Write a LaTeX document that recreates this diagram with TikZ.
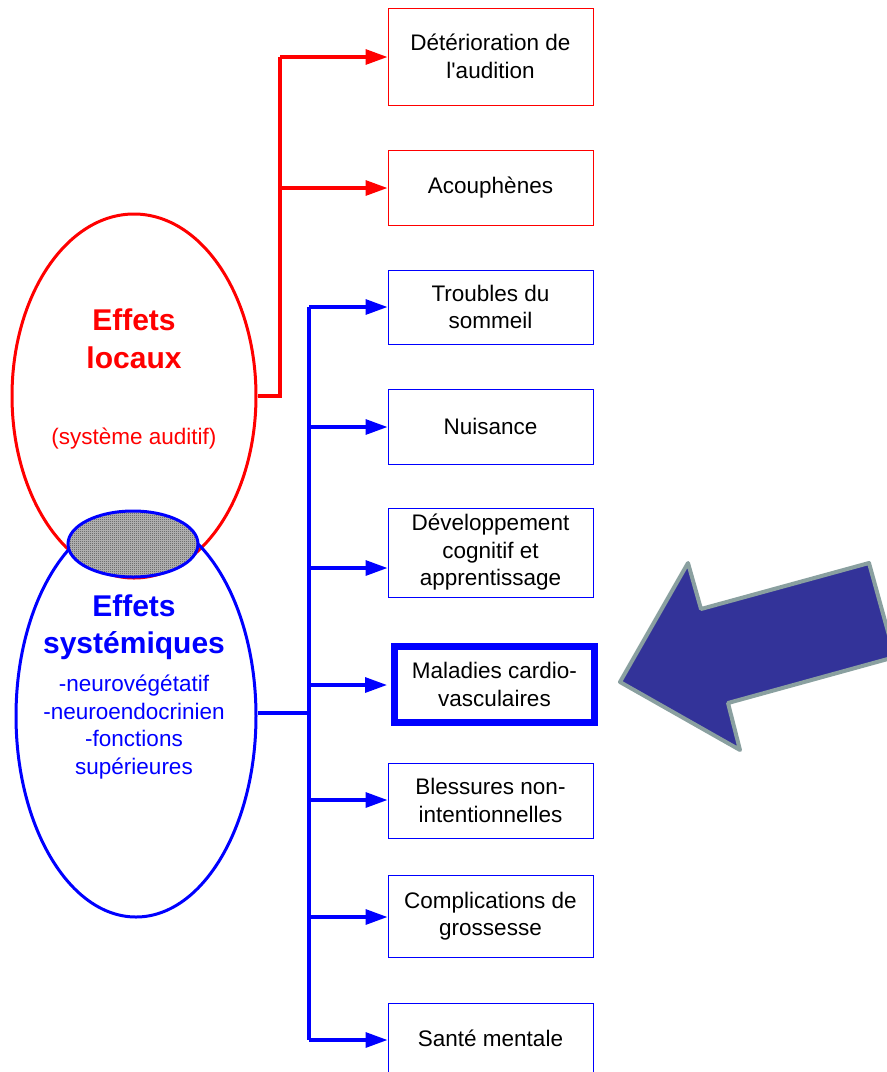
\documentclass[tikz,border=0pt]{standalone}
\usepackage{fontspec}
\setmainfont{Liberation Sans}
\usetikzlibrary{shapes.geometric,arrows.meta,patterns}
\definecolor{arrfill}{RGB}{51,51,153}
\definecolor{arredge}{RGB}{138,160,160}
\definecolor{hatchlight}{RGB}{190,190,190}
\definecolor{hatchdark}{RGB}{70,70,70}
\newcommand\sq{\XeTeXglyph\XeTeXcharglyph"27\relax}
\pgfdeclarepatternformonly{finechecker}{\pgfpointorigin}{\pgfpoint{2pt}{2pt}}{\pgfpoint{2pt}{2pt}}{%
  \pgfpathrectangle{\pgfpointorigin}{\pgfpoint{1pt}{1pt}}%
  \pgfpathrectangle{\pgfpoint{1pt}{1pt}}{\pgfpoint{1pt}{1pt}}%
  \pgfusepath{fill}}
\begin{document}
\begin{tikzpicture}[x=1pt,y=-1pt,
  box/.style={draw, rectangle, minimum width=205pt, minimum height=#1, align=center,
    font=\fontsize{22.5}{27.5}\selectfont, inner sep=0pt, line width=1pt, text=black},
  redbox/.style={box=#1, draw=red},
  bluebox/.style={box=#1, draw=blue},
  redline/.style={draw=red, line width=3.2pt, line join=miter},
  blueline/.style={draw=blue, line width=3.2pt, line join=miter},
  tipped/.style={-{Triangle[length=22pt,width=15pt]}},
  bigtxt/.style={align=center, font=\fontsize{30}{37.5}\selectfont\bfseries, inner sep=0pt},
  smalltxt/.style={align=center, font=\fontsize{22.5}{27.7}\selectfont, inner sep=0pt},
  oval/.style={ellipse, line width=3pt, inner sep=0pt}
]
\useasboundingbox (0,0) rectangle (887,1072);

% ellipses
\node[oval, draw=red, minimum width=244pt, minimum height=364pt] (loc) at (134,396) {};
\node[oval, draw=blue, minimum width=240pt, minimum height=402pt] (sys) at (136,716) {};
\node[oval, draw=blue, preaction={fill=hatchlight}, pattern=finechecker, pattern color=hatchdark,
  minimum width=130pt, minimum height=66pt] (inter) at (133,544) {};

% ellipse texts
\node[bigtxt, text=red] (loct) at (134,339) {Effets\\locaux};
\node[smalltxt, text=red] (locs) at (134,439) {(système auditif)};
\node[bigtxt, text=blue] (syst) at (134,627) {Effets\\systémiques};
\node[smalltxt, text=blue] (sysl) at (134,727) {-neurovégétatif\\-neuroendocrinien\\-fonctions\\supérieures};

% boxes
\node[redbox=97pt] (b1) at (490.5,56.5) {Détérioration de\\l\sq audition};
\node[redbox=75pt] (b2) at (490.5,187.5) {Acouphènes};
\node[bluebox=74pt] (b3) at (490.5,307) {Troubles du\\sommeil};
\node[bluebox=75pt] (b4) at (490.5,426.5) {Nuisance};
\node[bluebox=89pt] (b5) at (490.5,552.5) {Développement\\cognitif et\\apprentissage};
\node[bluebox=75.5pt, minimum width=200pt, line width=7pt] (b6) at (494.5,684.25) {Maladies cardio-\\vasculaires};
\node[bluebox=75pt] (b7) at (490.5,800.5) {Blessures non-\\intentionnelles};
\node[bluebox=82pt] (b8) at (490.5,916) {Complications de\\grossesse};
\node[bluebox=70pt] (b9) at (490.5,1038) {Santé mentale};

% red connectors
\coordinate (rj) at (280,396);
\coordinate (r1) at (280,57);
\coordinate (r2) at (280,188);
\draw[redline] (loc.east) -- (rj) -- (r1);
\draw[redline, tipped] (r1) -- (r1 -| b1.west);
\draw[redline, tipped] (r2) -- (r2 -| b2.west);

% blue connectors
\coordinate (bj) at (309,713);
\coordinate (t3) at (309,307);
\coordinate (t4) at (309,427);
\coordinate (t5) at (309,568);
\coordinate (t6) at (309,685);
\coordinate (t7) at (309,800);
\coordinate (t8) at (309,917);
\coordinate (t9) at (309,1040);
\draw[blueline] (sys.east |- bj) -- (bj);
\draw[blueline] (t3) -- (t9);
\draw[blueline, tipped] (t3) -- (t3 -| b3.west);
\draw[blueline, tipped] (t4) -- (t4 -| b4.west);
\draw[blueline, tipped] (t5) -- (t5 -| b5.west);
\draw[blueline, tipped, shorten >=4pt] (t6) -- (t6 -| b6.west);
\draw[blueline, tipped] (t7) -- (t7 -| b7.west);
\draw[blueline, tipped] (t8) -- (t8 -| b8.west);
\draw[blueline, tipped] (t9) -- (t9 -| b9.west);

% big pointing arrow
\draw[fill=arrfill, draw=arredge, line width=4pt, line join=round]
  (620,682) -- (688,563) -- (701,609) -- (869,563) -- (895,657) -- (728,703) -- (740,750) -- cycle;
\end{tikzpicture}
\end{document}
